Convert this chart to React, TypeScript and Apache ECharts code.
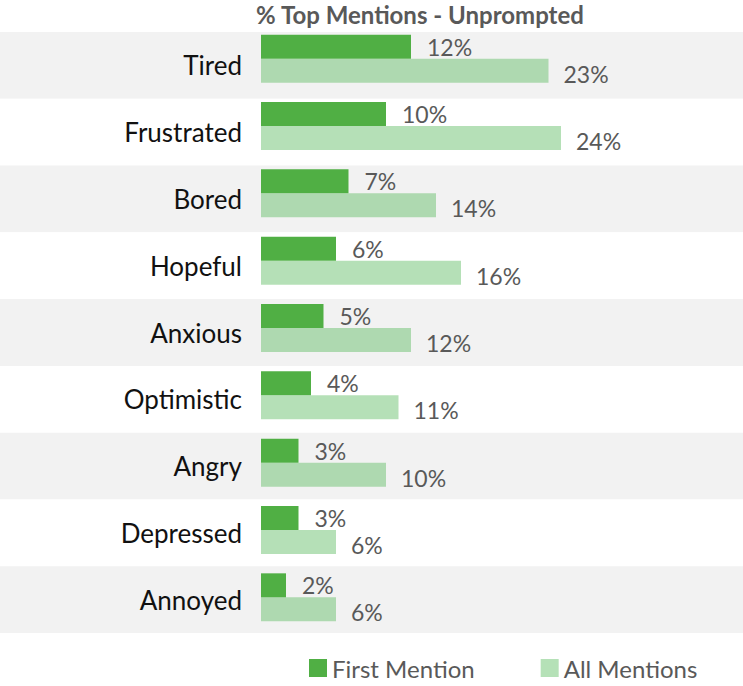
import React, { useEffect, useRef } from "react";
import * as echarts from "echarts";

const categories = ["Tired", "Frustrated", "Bored", "Hopeful", "Anxious", "Optimistic", "Angry", "Depressed", "Annoyed"];
const firstMention = [12, 10, 7, 6, 5, 4, 3, 3, 2];
const allMentions = [23, 24, 14, 16, 12, 11, 10, 6, 6];

const FONT = "Lato, 'Open Sans', sans-serif";
const GRAY = "#595959";

export default function App() {
  const ref = useRef<HTMLDivElement>(null);
  useEffect(() => {
    if (!ref.current) return;
    const chart = echarts.init(ref.current, null, { renderer: "svg" });
    chart.setOption({
      animation: false,
      backgroundColor: "#ffffff",
      textStyle: { fontFamily: FONT },
      title: {
        text: "% Top Mentions - Unprompted",
        left: 420,
        top: 0,
        padding: [2, 0, 0, 0],
        textAlign: "center",
        textStyle: { fontFamily: FONT, fontSize: 24, fontWeight: "bold", color: GRAY },
      },
      legend: {
        left: 309,
        top: 656,
        padding: 0,
        itemWidth: 18,
        itemHeight: 18,
        itemGap: 66,
        icon: "rect",
        textStyle: { fontFamily: FONT, fontSize: 24, color: GRAY, padding: [0, 0, 0, 0] },
        data: [
          { name: "First Mention", itemStyle: { color: "#50af44" } },
          { name: "All Mentions", itemStyle: { color: "#b5e1b7" } },
        ],
      },
      grid: [
        { left: 0, right: 0, top: 32, bottom: 53, containLabel: false },
        { left: 261, right: 107, top: 25, bottom: 55, containLabel: false },
      ],
      xAxis: [
        { type: "value", gridIndex: 0, min: 0, max: 1, show: false },
        { type: "value", gridIndex: 1, min: 0, max: 30, show: false },
      ],
      yAxis: [
        {
          type: "category",
          gridIndex: 0,
          data: categories,
          inverse: true,
          axisLine: { show: false },
          axisTick: { show: false },
          splitLine: { show: false },
          splitArea: { show: true, areaStyle: { color: ["#f2f2f2", "#ffffff"] } },
          axisLabel: { margin: -242, fontFamily: FONT, fontSize: 26, color: "#111111" },
        },
        {
          type: "category",
          gridIndex: 1,
          data: categories,
          inverse: true,
          show: false,
        },
      ],
      series: [
        {
          name: "First Mention",
          type: "bar",
          xAxisIndex: 1,
          yAxisIndex: 1,
          data: firstMention,
          barWidth: 24,
          barGap: "0%",
          itemStyle: { color: "#50af44" },
          label: {
            show: true,
            position: "right",
            distance: 16,
            offset: [0, 0],
            formatter: "{c}%",
            fontFamily: FONT,
            fontSize: 23,
            color: GRAY,
          },
        },
        {
          name: "All Mentions",
          type: "bar",
          xAxisIndex: 1,
          yAxisIndex: 1,
          data: allMentions,
          barWidth: 24,
          barGap: "0%",
          itemStyle: { color: "rgba(100,190,105,0.48)" },
          label: {
            show: true,
            position: "right",
            distance: 15,
            offset: [0, 3],
            formatter: "{c}%",
            fontFamily: FONT,
            fontSize: 23,
            color: GRAY,
          },
        },
      ],
    });
    return () => chart.dispose();
  }, []);
  return <div ref={ref} style={{ width: 743, height: 686, position: "absolute", left: 0, top: 0 }} />;
}
